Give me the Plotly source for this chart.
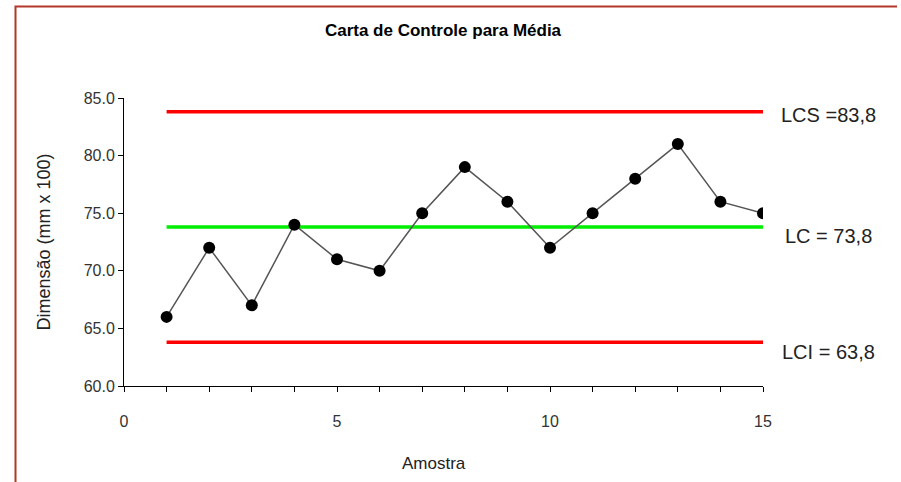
import plotly.graph_objects as go

# Sample means for the X-bar control chart
amostra = list(range(1, 16))
media = [66, 72, 67, 74, 71, 70, 75, 79, 76, 72, 75, 78, 81, 76, 75]

# Control limits
lcs = 83.8
lc = 73.8
lci = 63.8
limit_labels = ["LCS =83,8", "LC = 73,8", "LCI = 63,8"]

x_ticks = list(range(0, 16))
x_ticktext = [str(v) if v % 5 == 0 else "" for v in x_ticks]
y_ticks = [60, 65, 70, 75, 80, 85]

FONT = "Liberation Sans, Arial, sans-serif"
Y0, Y1 = 60, 85


def px(v):
    return (v - 124) / 639


def py(v):
    return (386 - v) / 288


fig = go.Figure()

for value, color in [(lcs, "#ff0000"), (lc, "#00ee00"), (lci, "#ff0000")]:
    fig.add_trace(go.Scatter(
        x=[amostra[0], amostra[-1]], y=[value, value], mode="lines",
        line=dict(color=color, width=3.5), hoverinfo="skip", showlegend=False,
    ))

fig.add_trace(go.Scatter(
    x=amostra, y=media, mode="lines+markers",
    line=dict(color="#555555", width=1.5),
    marker=dict(color="#000000", size=12),
    showlegend=False,
))

# Limit labels sit to the right of the plotting area
for value, text, shift in zip([lcs, lc, lci], limit_labels, [-3, -9, -10]):
    fig.add_annotation(
        x=1.103, y=(value - Y0) / (Y1 - Y0), xref="paper", yref="paper",
        text=text, showarrow=False, xanchor="center", yanchor="middle",
        yshift=shift, font=dict(family=FONT, size=20, color="#222222"),
    )

# X axis title, placed slightly left of the plot centre
fig.add_annotation(
    x=px(434), y=py(463), xref="paper", yref="paper", text="Amostra",
    showarrow=False, xanchor="center", yanchor="middle",
    font=dict(family=FONT, size=17, color="#222222"),
)

# Page frame (left and top edges)
fig.add_shape(
    type="path", xref="paper", yref="paper",
    path=f"M {px(15.5)},{py(482)} L {px(15.5)},{py(6.5)} L {px(897)},{py(6.5)}",
    line=dict(color="#b5362a", width=2),
)

fig.update_layout(
    width=901, height=482,
    margin=dict(l=124, r=138, t=98, b=96),
    paper_bgcolor="white", plot_bgcolor="white",
    font=dict(family=FONT, size=16, color="#333333"),
    title=dict(text="<b>Carta de Controle para Média</b>", x=443 / 901, xanchor="center",
               y=1 - 30 / 482, yanchor="middle",
               font=dict(family=FONT, size=17, color="#000000")),
    xaxis=dict(
        range=[0, 15], tickvals=x_ticks, ticktext=x_ticktext,
        showgrid=False, zeroline=False, showline=True, linecolor="#000000", linewidth=1,
        ticks="outside", ticklen=5, tickcolor="#000000", ticklabelstandoff=16,
    ),
    yaxis=dict(
        range=[Y0, Y1], tickvals=y_ticks, tickformat=".1f",
        showgrid=False, zeroline=False, showline=True, linecolor="#000000", linewidth=1,
        ticks="outside", ticklen=5, tickcolor="#000000",
        title=dict(text="Dimensão (mm x 100)", standoff=28, font=dict(size=18, color="#222222")),
    ),
)

fig.write_html("out.html")
